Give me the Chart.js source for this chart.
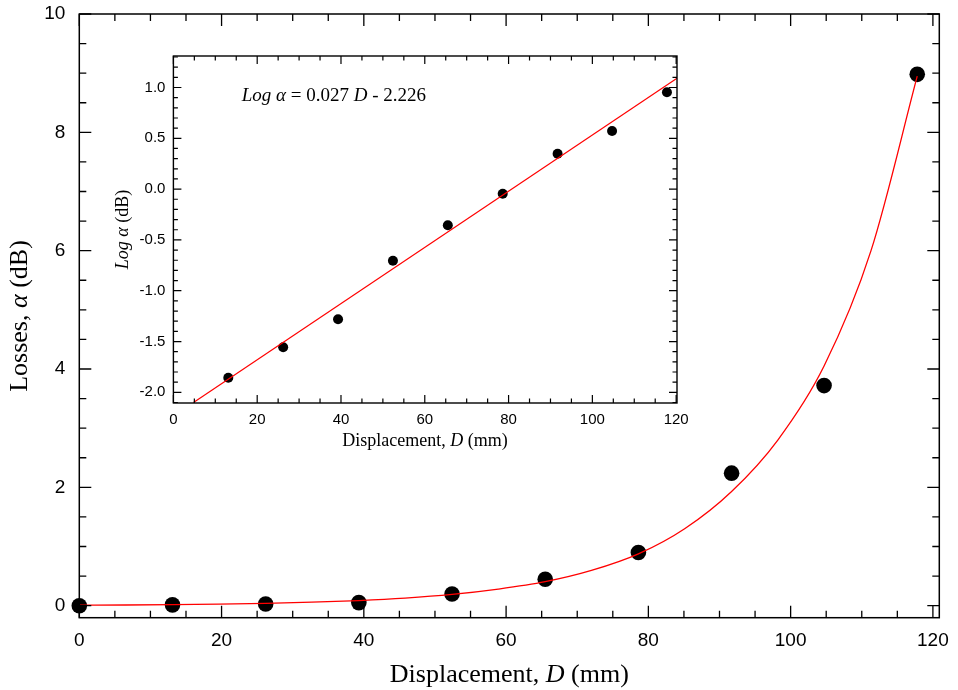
<!DOCTYPE html>
<html lang="en">
<head>
  <meta charset="UTF-8" />
  <title>Losses vs displacement</title>
  <script src="https://cdn.jsdelivr.net/npm/chart.js"></script>
  <style>
    * {
      margin: 0;
      padding: 0;
      box-sizing: border-box;
    }

    body {
      background: #fff;
      width: 958px;
      height: 690px;
      overflow: hidden;
    }

    .wrap {
      position: relative;
      width: 958px;
      height: 690px;
    }

    #main {
      position: absolute;
      left: 0;
      top: 0;
    }

    #inset {
      position: absolute;
      left: 100px;
      top: 46px;
    }
  </style>
</head>
<body>
  <div class="wrap">
    <canvas id="main" width="958" height="690"></canvas>
    <canvas id="inset" width="593" height="414"></canvas>
  </div>

  <script>
    // measured points (main plot)
    const dispD = [0, 13.1, 26.2, 39.3, 52.4, 65.5, 78.6, 91.7, 104.7, 117.8];
    const lossDb = [0, 0.014, 0.028, 0.052, 0.198, 0.446, 0.90, 2.24, 3.72, 8.98];

    // red fit curve
    const fitD = [0, 6.5, 13.1, 19.6, 26.2, 32.7, 39.3, 45.8, 52.4, 58.9, 65.5, 72, 78.6, 85.1, 91.7, 98.2, 104.7, 111.3, 117.8];
    const fitLoss = [0.008, 0.012, 0.018, 0.027, 0.04, 0.059, 0.087, 0.128, 0.19, 0.28, 0.405, 0.595, 0.875, 1.3, 1.93, 2.8, 4.05, 6.0, 8.95];

    // inset: log of the losses
    const logD = [13.1, 26.2, 39.3, 52.4, 65.5, 78.6, 91.7, 104.7, 117.8];
    const logLoss = [-1.857, -1.557, -1.28, -0.705, -0.356, -0.046, 0.348, 0.572, 0.954];
    const logFitD = [4.8, 120.2];
    const logFitVal = [-2.10, 1.09];

    // tick labels
    const mainXTicks = [0, 20, 40, 60, 80, 100, 120];
    const mainYTicks = [0, 2, 4, 6, 8, 10];
    const insetXTicks = [0, 20, 40, 60, 80, 100, 120];
    const insetYTicks = [-2.0, -1.5, -1.0, -0.5, 0.0, 0.5, 1.0];

    const sans = '"Liberation Sans", Arial, Helvetica, sans-serif';
    const serif = '"Liberation Serif", "Times New Roman", serif';

    const pts = (xs, ys) => xs.map((x, i) => ({ x: x, y: ys[i] }));

    // frame with inward ticks on all four sides
    const framePlugin = {
      id: 'frame',
      afterDatasetsDraw(chart, args, o) {
        const { ctx, chartArea: a, scales } = chart;
        const x = scales.x, y = scales.y;
        ctx.save();
        ctx.strokeStyle = '#000';
        ctx.lineWidth = o.tickWidth;
        ctx.beginPath();
        const eachTick = (min, max, step, major, fn) => {
          for (let k = Math.ceil(min / step - 1e-9); k * step <= max + 1e-9; k++) {
            const v = k * step;
            const isMajor = Math.abs(v / major - Math.round(v / major)) < 1e-6;
            fn(v, isMajor ? o.majorLen : o.minorLen);
          }
        };
        eachTick(x.min, x.max, o.xMinor, o.xMajor, (v, len) => {
          const px = x.getPixelForValue(v);
          ctx.moveTo(px, a.bottom); ctx.lineTo(px, a.bottom - len);
          ctx.moveTo(px, a.top); ctx.lineTo(px, a.top + len);
        });
        eachTick(y.min, y.max, o.yMinor, o.yMajor, (v, len) => {
          const py = y.getPixelForValue(v);
          ctx.moveTo(a.left, py); ctx.lineTo(a.left + len, py);
          ctx.moveTo(a.right, py); ctx.lineTo(a.right - len, py);
        });
        ctx.stroke();
        ctx.lineWidth = o.frameWidth;
        ctx.strokeRect(a.left, a.top, a.right - a.left, a.bottom - a.top);
        ctx.restore();
      }
    };

    // axis titles and equation with mixed italic text
    const textPlugin = {
      id: 'richText',
      afterDraw(chart, args, o) {
        const ctx = chart.ctx;
        o.items.forEach(item => {
          ctx.save();
          ctx.translate(item.x, item.y);
          if (item.rotate) ctx.rotate(-Math.PI / 2);
          ctx.fillStyle = '#000';
          ctx.textBaseline = 'alphabetic';
          ctx.textAlign = 'left';
          const fontOf = p => (p.i ? 'italic ' : '') + item.size + 'px ' + serif;
          let total = 0;
          item.parts.forEach(p => { ctx.font = fontOf(p); total += ctx.measureText(p.t).width; });
          let cx = item.align === 'left' ? 0 : -total / 2;
          item.parts.forEach(p => {
            ctx.font = fontOf(p);
            ctx.fillText(p.t, cx, 0);
            cx += ctx.measureText(p.t).width;
          });
          ctx.restore();
        });
      }
    };

    function axis(min, max, ticks, fmt, size, pad, fit) {
      return {
        type: 'linear',
        min: min,
        max: max,
        grid: { display: false, drawTicks: false },
        border: { display: false },
        afterBuildTicks: s => { s.ticks = ticks.map(v => ({ value: v })); },
        afterFit: s => {
          fit(s);
          // keep label overhang from shrinking the plot area
          s.paddingTop = 0; s.paddingBottom = 0;
          s.paddingLeft = 0; s.paddingRight = 0;
        },
        ticks: {
          color: '#000',
          font: { family: sans, size: size },
          padding: pad,
          maxRotation: 0,
          autoSkip: false,
          callback: fmt
        }
      };
    }

    // main chart
    new Chart(document.getElementById('main'), {
      type: 'scatter',
      data: {
        datasets: [{
          data: pts(fitD, fitLoss),
          showLine: true,
          borderColor: '#ff0000',
          borderWidth: 1.3,
          pointRadius: 0,
          cubicInterpolationMode: 'monotone',
          clip: false
        }, {
          data: pts(dispD, lossDb),
          pointRadius: 7.8,
          backgroundColor: '#000',
          borderWidth: 0,
          clip: false
        }]
      },
      options: {
        responsive: false,
        animation: false,
        layout: { padding: { top: 14, right: 18.7, left: 0, bottom: 0 } },
        plugins: {
          legend: { display: false },
          tooltip: { enabled: false },
          frame: { majorLen: 12, minorLen: 7, xMinor: 5, xMajor: 20, yMinor: 0.5, yMajor: 2, tickWidth: 1.3, frameWidth: 1.5 },
          richText: {
            items: [
              { parts: [{ t: 'Displacement, ' }, { t: 'D', i: 1 }, { t: ' (mm)' }], x: 509.3, y: 682, size: 26 },
              { parts: [{ t: 'Losses, ' }, { t: 'α', i: 1 }, { t: ' (dB)' }], x: 27, y: 316, size: 26, rotate: true }
            ]
          }
        },
        scales: {
          x: axis(0, 120.9, mainXTicks, v => String(v), 19, 12, s => { s.height = 72.3; }),
          y: axis(-0.203, 10, mainYTicks, v => String(v), 19, 14, s => { s.width = 79.3; })
        }
      },
      plugins: [framePlugin, textPlugin]
    });

    // inset chart
    new Chart(document.getElementById('inset'), {
      type: 'scatter',
      data: {
        datasets: [{
          data: pts(logFitD, logFitVal),
          showLine: true,
          borderColor: '#ff0000',
          borderWidth: 1.2,
          pointRadius: 0,
          clip: false
        }, {
          data: pts(logD, logLoss),
          pointRadius: 5,
          backgroundColor: '#000',
          borderWidth: 0,
          clip: false
        }]
      },
      options: {
        responsive: false,
        animation: false,
        layout: { padding: { top: 10, right: 16, left: 0, bottom: 0 } },
        plugins: {
          legend: { display: false },
          tooltip: { enabled: false },
          frame: { majorLen: 8, minorLen: 4.5, xMinor: 5, xMajor: 20, yMinor: 0.1, yMajor: 0.5, tickWidth: 1.2, frameWidth: 1.4 },
          richText: {
            items: [
              { parts: [{ t: 'Displacement, ' }, { t: 'D', i: 1 }, { t: ' (mm)' }], x: 325, y: 400, size: 18 },
              { parts: [{ t: 'Log', i: 1 }, { t: ' ' }, { t: 'α', i: 1 }, { t: ' (dB)' }], x: 28, y: 183.5, size: 18, rotate: true },
              { parts: [{ t: 'Log', i: 1 }, { t: ' ' }, { t: 'α', i: 1 }, { t: ' = 0.027 ' }, { t: 'D', i: 1 }, { t: ' - 2.226' }], x: 141.7, y: 54.7, size: 19, align: 'left' }
            ]
          }
        },
        scales: {
          x: axis(0, 120.2, insetXTicks, v => String(v), 15, 8, s => { s.height = 57; }),
          y: axis(-2.105, 1.31, insetYTicks, v => v.toFixed(1), 15, 8, s => { s.width = 73.4; })
        }
      },
      plugins: [framePlugin, textPlugin]
    });
  </script>
</body>
</html>
